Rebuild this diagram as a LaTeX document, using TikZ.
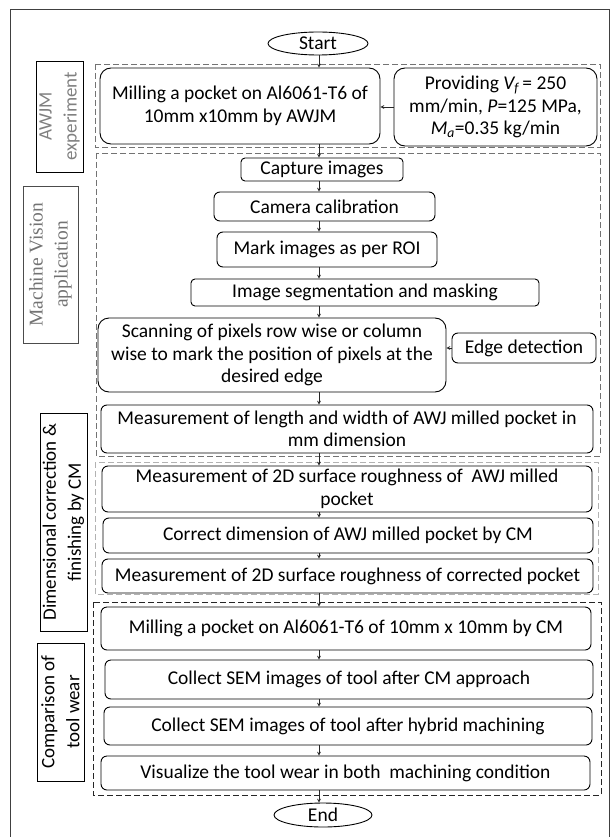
\documentclass[tikz,border=0pt]{standalone}
\usepackage{fontspec}
\setmainfont{Carlito}
\newfontfamily\mvfont{Liberation Serif}
\usepackage{tikz}
\usetikzlibrary{shapes.geometric, arrows}
\usetikzlibrary{calc,positioning}

\tikzset{
  stepbox/.style={draw, line width=0.9pt, rounded corners=6pt, align=center,
    inner sep=1pt, font=\fontsize{19.5}{22.5}\selectfont},
  bigbox/.style={stepbox, rounded corners=11pt},
  termbox/.style={draw, ellipse, line width=0.9pt, inner sep=0pt,
    font=\fontsize{19.5}{22.5}\selectfont},
  groupbox/.style={dash pattern=on 6pt off 3pt, line width=0.8pt},
  sidelabel/.style={draw, rotate=90, align=center, inner sep=0pt,
    line width=0.8pt, font=\fontsize{19}{25}\selectfont},
  link/.style={->, >=stealth, line width=0.7pt, black!85},
}

\begin{document}
\begin{tikzpicture}[x=1pt, y=-1pt]

    \useasboundingbox (0,0) rectangle (613,837);

    % Frame
    \draw[line width=0.8pt, black!75] (10,837) -- (10,9) -- (609,9) -- (609,837);

    % Groups
    \draw[groupbox, black!55] (95,64) rectangle (600,147);
    \draw[groupbox, black!55] (96,153) rectangle (600,456);
    \draw[groupbox, black!30] (95,462) rectangle (598,594);
    \draw[groupbox, black!85] (93,602) rectangle (601,795);

    % Side labels
    \node[sidelabel, minimum width=111pt, minimum height=47pt, text=black!50] (labawjm)
      at (59.5,116.5) {AWJM\\experiment};
    \node[sidelabel, minimum width=157pt, minimum height=55pt, draw=black!70, text=black!55,
      font=\mvfont\fontsize{19.5}{25}\selectfont] (labmv)
      at (50.5,264.5) {Machine Vision\\application};
    \node[sidelabel, minimum width=218pt, minimum height=47pt] (labdim)
      at (63.5,522) {Dimensional correction \&\\finishing by CM};
    \node[sidelabel, minimum width=138pt, minimum height=47pt] (labcomp)
      at (60.5,712) {Comparison of\\tool wear};

    % Steps
    \node[termbox, minimum width=100pt, minimum height=23pt] (start) at (318,43.5) {Start};
    \node[bigbox, minimum width=280pt, minimum height=76pt] (milla) at (240,106)
      {Milling a pocket on Al6061-T6 of\\10mm x10mm by AWJM};
    \node[bigbox, minimum width=203pt, minimum height=78pt] (prov) at (495.5,107)
      {Providing \textit{V\textsubscript{f}}\,= 250\\mm/min, \textit{P}=125 MPa,\\\textit{M\textsubscript{a}}=0.35 kg/min};
    \node[stepbox, rounded corners=4pt, minimum width=162pt, minimum height=23pt] (capture)
      at (322,169.5) {Capture images};
    \node[stepbox, minimum width=221pt, minimum height=29pt] (camera) at (324.5,206.5)
      {Camera calibration};
    \node[stepbox, minimum width=220pt, minimum height=35pt] (mark) at (327,249.5)
      {Mark images as per ROI};
    \node[stepbox, rounded corners=4pt, minimum width=348pt, minimum height=27pt] (seg)
      at (365,292.5) {Image segmentation and masking};
    \node[bigbox, minimum width=348pt, minimum height=74pt] (scan) at (272,355)
      {Scanning of pixels row wise or column\\wise to mark the position of pixels at the\\desired edge};
    \node[stepbox, minimum width=144pt, minimum height=30pt] (edge) at (524,348)
      {Edge detection};
    \node[stepbox, minimum width=492pt, minimum height=48pt] (measlen) at (347,429)
      {Measurement of length and width of AWJ milled pocket in\\mm dimension};
    \node[stepbox, minimum width=490pt, minimum height=46pt] (rough) at (347,489)
      {Measurement of 2D surface roughness of~ AWJ milled\\pocket};
    \node[stepbox, minimum width=490pt, minimum height=35pt] (correct) at (348,535.5)
      {Correct dimension of AWJ milled pocket by CM};
    \node[stepbox, minimum width=491pt, minimum height=34pt] (roughcor) at (347.5,576)
      {Measurement of 2D surface roughness of corrected pocket};
    \node[stepbox, minimum width=490pt, minimum height=43pt] (millcm) at (346,628.5)
      {Milling a pocket on Al6061-T6 of 10mm x 10mm by CM};
    \node[stepbox, minimum width=488pt, minimum height=39pt] (semcm) at (349,679.5)
      {Collect SEM images of tool after CM approach};
    \node[stepbox, minimum width=488pt, minimum height=38pt] (semhyb) at (348,726)
      {Collect SEM images of tool after hybrid machining};
    \node[stepbox, minimum width=489pt, minimum height=34pt] (visual) at (345.5,773)
      {Visualize the tool wear in both~ machining condition};
    \node[termbox, minimum width=98pt, minimum height=24pt] (end) at (323,815) {End};

    % Flow
    \coordinate (spine) at (319,0);
    \foreach \a/\b in {start/milla, milla/capture, capture/camera, camera/mark,
      mark/seg, seg/scan, scan/measlen, measlen/rough, rough/correct,
      correct/roughcor, roughcor/millcm, millcm/semcm, semcm/semhyb,
      semhyb/visual, visual/end} {
        \draw[link] (\a.south -| spine) -- (\b.north -| spine);
    }
    \draw[link] (prov.west) -- (prov.west -| milla.east);
    \draw[link] (edge.west) -- (edge.west -| scan.east);
\end{tikzpicture}
\end{document}
